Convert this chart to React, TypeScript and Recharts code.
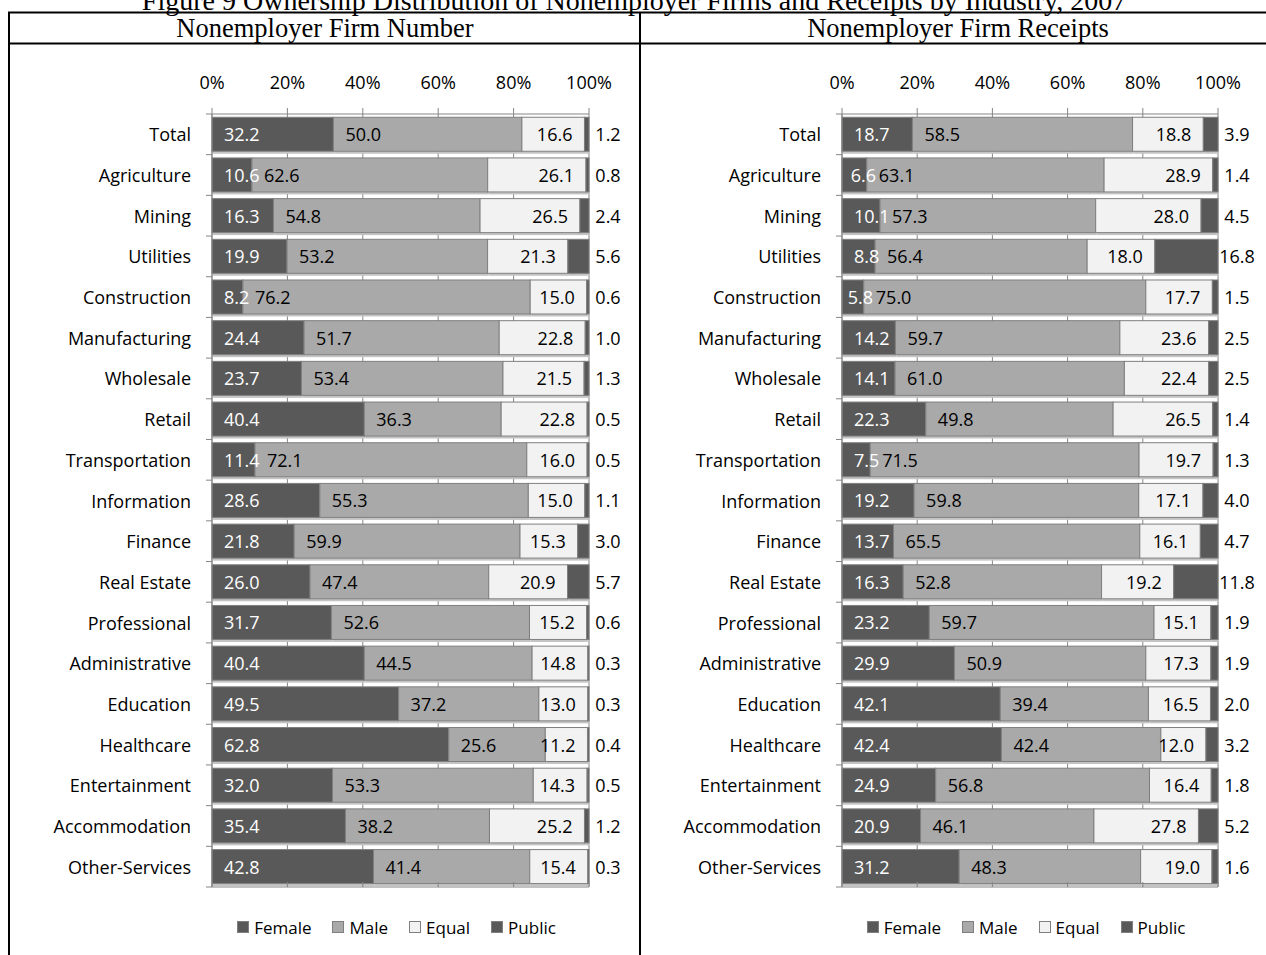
import React from 'react';
import { BarChart, Bar, XAxis, YAxis, CartesianGrid, LabelList, Legend } from 'recharts';

// Industries, top to bottom
const industries = [
  'Total', 'Agriculture', 'Mining', 'Utilities', 'Construction', 'Manufacturing',
  'Wholesale', 'Retail', 'Transportation', 'Information', 'Finance', 'Real Estate',
  'Professional', 'Administrative', 'Education', 'Healthcare', 'Entertainment',
  'Accommodation', 'Other-Services',
];

// Share of nonemployer firms (%) by ownership
const firmFemale = [32.2, 10.6, 16.3, 19.9, 8.2, 24.4, 23.7, 40.4, 11.4, 28.6, 21.8, 26.0, 31.7, 40.4, 49.5, 62.8, 32.0, 35.4, 42.8];
const firmMale = [50.0, 62.6, 54.8, 53.2, 76.2, 51.7, 53.4, 36.3, 72.1, 55.3, 59.9, 47.4, 52.6, 44.5, 37.2, 25.6, 53.3, 38.2, 41.4];
const firmEqual = [16.6, 26.1, 26.5, 21.3, 15.0, 22.8, 21.5, 22.8, 16.0, 15.0, 15.3, 20.9, 15.2, 14.8, 13.0, 11.2, 14.3, 25.2, 15.4];
const firmPublic = [1.2, 0.8, 2.4, 5.6, 0.6, 1.0, 1.3, 0.5, 0.5, 1.1, 3.0, 5.7, 0.6, 0.3, 0.3, 0.4, 0.5, 1.2, 0.3];

// Share of nonemployer receipts (%) by ownership
const receiptFemale = [18.7, 6.6, 10.1, 8.8, 5.8, 14.2, 14.1, 22.3, 7.5, 19.2, 13.7, 16.3, 23.2, 29.9, 42.1, 42.4, 24.9, 20.9, 31.2];
const receiptMale = [58.5, 63.1, 57.3, 56.4, 75.0, 59.7, 61.0, 49.8, 71.5, 59.8, 65.5, 52.8, 59.7, 50.9, 39.4, 42.4, 56.8, 46.1, 48.3];
const receiptEqual = [18.8, 28.9, 28.0, 18.0, 17.7, 23.6, 22.4, 26.5, 19.7, 17.1, 16.1, 19.2, 15.1, 17.3, 16.5, 12.0, 16.4, 27.8, 19.0];
const receiptPublic = [3.9, 1.4, 4.5, 16.8, 1.5, 2.5, 2.5, 1.4, 1.3, 4.0, 4.7, 11.8, 1.9, 1.9, 2.0, 3.2, 1.8, 5.2, 1.6];

const percentTicks = [0, 0.2, 0.4, 0.6, 0.8, 1];

const seriesKeys = ['female', 'male', 'equal', 'public'];
const seriesNames = ['Female', 'Male', 'Equal', 'Public'];
const seriesColors = ['#595959', '#a9a9a9', '#f2f2f2', '#595959'];

const FONT = "'Open Sans', sans-serif";
const SERIF = "'Liberation Serif', 'Times New Roman', serif";
const AXIS_GREY = '#868686';

const buildRows = (f: number[], m: number[], e: number[], p: number[]) =>
  industries.map((name, i) => ({ name, female: f[i], male: m[i], equal: e[i], public: p[i] }));

const firmRows = buildRows(firmFemale, firmMale, firmEqual, firmPublic);
const receiptRows = buildRows(receiptFemale, receiptMale, receiptEqual, receiptPublic);

const fmt = (v: any) => (typeof v === 'number' ? v.toFixed(1) : String(v));

// Bar segment with a thin outline and a soft drop shadow underneath
const SegmentShape = (props: any) => {
  const { x, y, width, height, fill } = props;
  if (!width || width <= 0) return <g />;
  return (
    <g>
      <rect x={x + 1} y={y + height} width={width} height={2.5} fill="#c4c4c4" />
      <rect x={x} y={y} width={width} height={height} fill={fill} stroke="#7f7f7f" strokeWidth={1} />
    </g>
  );
};

const labelStyle = { fontFamily: FONT, fontSize: 18 };

const femaleLabel = (props: any) => {
  const { x, y, width, height, value } = props;
  const pad = Math.max(3, Math.min(12, width - 16));
  return (
    <text x={x + pad} y={y + height / 2} dominantBaseline="central" textAnchor="start" fill="#ffffff" style={labelStyle}>
      {fmt(value)}
    </text>
  );
};

const maleLabel = (props: any) => {
  const { x, y, height, value } = props;
  return (
    <text x={x + 12} y={y + height / 2} dominantBaseline="central" textAnchor="start" fill="#000000" style={labelStyle}>
      {fmt(value)}
    </text>
  );
};

const equalLabel = (props: any) => {
  const { x, y, width, height, value } = props;
  return (
    <text x={x + width - 12} y={y + height / 2} dominantBaseline="central" textAnchor="end" fill="#000000" style={labelStyle}>
      {fmt(value)}
    </text>
  );
};

const publicLabel = (props: any) => {
  const { x, y, width, height, value } = props;
  return (
    <text x={x + width + 19} y={y + height / 2} dominantBaseline="central" textAnchor="middle" fill="#000000" style={labelStyle}>
      {fmt(value)}
    </text>
  );
};

const labelRenderers = [femaleLabel, maleLabel, equalLabel, publicLabel];

// Category label plus tick marks placed between categories
const CategoryTick = (props: any) => {
  const { x, y, payload, index } = props;
  const half = payload && payload.offset ? payload.offset : 20.3;
  const axisX = x + 21;
  return (
    <g>
      <text x={x} y={y} textAnchor="end" dominantBaseline="central" fill="#000000" style={{ fontFamily: FONT, fontSize: 18 }}>
        {payload.value}
      </text>
      <line x1={axisX - 6} x2={axisX} y1={y + half} y2={y + half} stroke={AXIS_GREY} />
      {index === 0 && <line x1={axisX - 6} x2={axisX} y1={y - half} y2={y - half} stroke={AXIS_GREY} />}
    </g>
  );
};

const EmptyTick = () => <g />;

const LegendContent = () => (
  <div
    style={{
      display: 'flex',
      justifyContent: 'center',
      alignItems: 'center',
      height: 24,
      fontFamily: FONT,
      fontSize: 17,
      color: '#000',
      whiteSpace: 'nowrap',
    }}
  >
    {seriesNames.map((n, i) => (
      <span key={n} style={{ display: 'inline-flex', alignItems: 'center', marginRight: i < 3 ? 21 : 0 }}>
        <span
          style={{
            display: 'inline-block',
            width: 10,
            height: 10,
            background: seriesColors[i],
            border: '1px solid #7f7f7f',
            marginRight: 5,
          }}
        />
        {n}
      </span>
    ))}
  </div>
);

type PanelProps = { rows: any[]; width: number; marginLeft: number; marginRight: number };

const OwnershipPanel = ({ rows, width, marginLeft, marginRight }: PanelProps) => {
  const plotLeft = marginLeft + 190;
  const plotWidth = width - plotLeft - marginRight;
  return (
    <BarChart
      width={width}
      height={911}
      data={rows}
      layout="vertical"
      stackOffset="expand"
      barCategoryGap="8%"
      margin={{ top: 40, right: marginRight, bottom: 44, left: marginLeft }}
    >
      <CartesianGrid xAxisId="top" horizontal={false} stroke={AXIS_GREY} />
      <XAxis
        xAxisId="top"
        orientation="top"
        type="number"
        domain={[0, 1]}
        ticks={percentTicks}
        tickFormatter={(v: number) => `${Math.round(v * 100)}%`}
        height={30}
        tickSize={6}
        tickMargin={19}
        stroke={AXIS_GREY}
        tick={{ fontFamily: FONT, fontSize: 18, fill: '#000' }}
      />
      <XAxis
        xAxisId="bottom"
        orientation="bottom"
        type="number"
        domain={[0, 1]}
        ticks={percentTicks}
        height={1}
        mirror
        tickSize={5}
        tick={EmptyTick}
        stroke={AXIS_GREY}
      />
      <YAxis
        type="category"
        dataKey="name"
        width={190}
        tickSize={0}
        tickMargin={21}
        tickLine={false}
        stroke={AXIS_GREY}
        tick={CategoryTick}
        interval={0}
      />
      <Legend
        verticalAlign="bottom"
        height={24}
        content={LegendContent}
        wrapperStyle={{ left: plotLeft - 4, width: plotWidth, top: 871, bottom: 'auto' }}
      />
      {seriesKeys.map((k, i) => (
        <Bar
          key={k}
          dataKey={k}
          name={seriesNames[i]}
          stackId="own"
          xAxisId="top"
          fill={seriesColors[i]}
          shape={SegmentShape}
          isAnimationActive={false}
        >
          <LabelList dataKey={k} content={labelRenderers[i]} />
        </Bar>
      ))}
    </BarChart>
  );
};

export default function App() {
  return (
    <div
      style={{
        position: 'absolute',
        left: 0,
        top: 0,
        width: 1266,
        height: 955,
        overflow: 'hidden',
        background: '#ffffff',
      }}
    >
      <svg width={1266} height={955} style={{ position: 'absolute', left: 0, top: 0 }}>
        <text x={634} y={10} textAnchor="middle" fill="#000" style={{ fontFamily: SERIF, fontSize: 28 }}>
          Figure 9 Ownership Distribution of Nonemployer Firms and Receipts by Industry, 2007
        </text>
        <line x1={8} x2={1266} y1={12.5} y2={12.5} stroke="#000" strokeWidth={2} />
        <line x1={8} x2={1266} y1={43.5} y2={43.5} stroke="#000" strokeWidth={2} />
        <line x1={9} x2={9} y1={12} y2={955} stroke="#000" strokeWidth={2} />
        <line x1={640} x2={640} y1={12} y2={955} stroke="#000" strokeWidth={2} />
        <text x={325} y={37} textAnchor="middle" fill="#000" style={{ fontFamily: SERIF, fontSize: 26.5 }}>
          Nonemployer Firm Number
        </text>
        <text x={958} y={37} textAnchor="middle" fill="#000" style={{ fontFamily: SERIF, fontSize: 26.5 }}>
          Nonemployer Firm Receipts
        </text>
      </svg>
      <div style={{ position: 'absolute', left: 8, top: 44 }}>
        <OwnershipPanel rows={firmRows} width={632} marginLeft={14} marginRight={51} />
      </div>
      <div style={{ position: 'absolute', left: 640, top: 44 }}>
        <OwnershipPanel rows={receiptRows} width={626} marginLeft={12} marginRight={48} />
      </div>
    </div>
  );
}
